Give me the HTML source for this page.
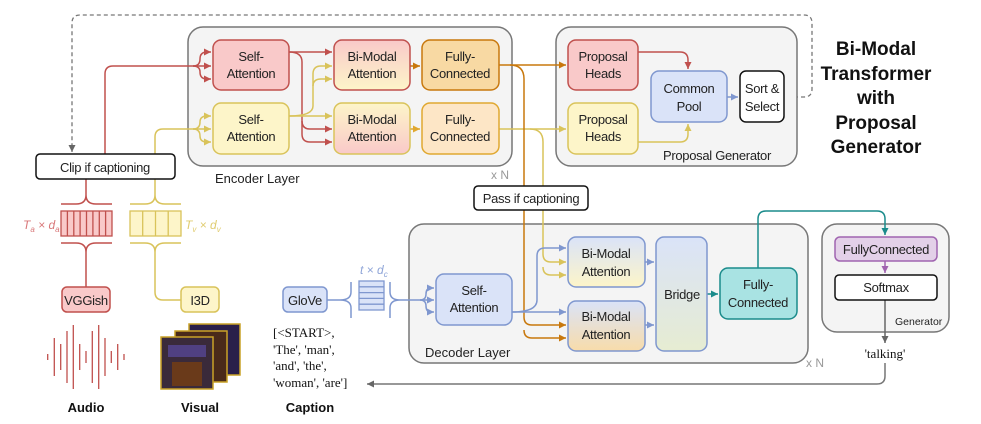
<!DOCTYPE html>
<html><head><meta charset="utf-8"><style>
html,body{margin:0;padding:0;background:#fff;}
svg{display:block;}
text{font-family:"Liberation Sans Narrow","Liberation Sans",sans-serif;}
.t text{font-size:13px;fill:#222;text-anchor:middle;letter-spacing:-0.3px;}
.s text{font-family:"Liberation Serif",serif;font-size:13px;fill:#111;}
</style></head><body>
<svg width="981" height="424" viewBox="0 0 981 424" xmlns="http://www.w3.org/2000/svg">
<defs>
<linearGradient id="ry" x1="0" y1="0" x2="0" y2="1"><stop offset="0" stop-color="#f9c9c9"/><stop offset="1" stop-color="#fdf5c9"/></linearGradient>
<linearGradient id="yr" x1="0" y1="0" x2="0" y2="1"><stop offset="0" stop-color="#fdf5c9"/><stop offset="1" stop-color="#f9c9c9"/></linearGradient>
<linearGradient id="by" x1="0" y1="0" x2="0" y2="1"><stop offset="0" stop-color="#dae3f8"/><stop offset="1" stop-color="#fdf5c9"/></linearGradient>
<linearGradient id="bo" x1="0" y1="0" x2="0" y2="1"><stop offset="0" stop-color="#dae3f8"/><stop offset="1" stop-color="#f8dcaa"/></linearGradient>
<linearGradient id="bg" x1="0" y1="0" x2="0" y2="1"><stop offset="0" stop-color="#dae3f8"/><stop offset="1" stop-color="#e6ecd2"/></linearGradient>
<marker id="ar" markerWidth="8" markerHeight="8" refX="7" refY="4" orient="auto" markerUnits="userSpaceOnUse"><path d="M0,0.5 L7,4 L0,7.5 Z" fill="#c0504d"/></marker>
<marker id="ay" markerWidth="8" markerHeight="8" refX="7" refY="4" orient="auto" markerUnits="userSpaceOnUse"><path d="M0,0.5 L7,4 L0,7.5 Z" fill="#d9c35a"/></marker>
<marker id="ao" markerWidth="8" markerHeight="8" refX="7" refY="4" orient="auto" markerUnits="userSpaceOnUse"><path d="M0,0.5 L7,4 L0,7.5 Z" fill="#c8780d"/></marker>
<marker id="ao2" markerWidth="8" markerHeight="8" refX="7" refY="4" orient="auto" markerUnits="userSpaceOnUse"><path d="M0,0.5 L7,4 L0,7.5 Z" fill="#e0a830"/></marker>
<marker id="ab" markerWidth="8" markerHeight="8" refX="7" refY="4" orient="auto" markerUnits="userSpaceOnUse"><path d="M0,0.5 L7,4 L0,7.5 Z" fill="#7f97cf"/></marker>
<marker id="at" markerWidth="8" markerHeight="8" refX="7" refY="4" orient="auto" markerUnits="userSpaceOnUse"><path d="M0,0.5 L7,4 L0,7.5 Z" fill="#1a8b8b"/></marker>
<marker id="ap" markerWidth="8" markerHeight="8" refX="7" refY="4" orient="auto" markerUnits="userSpaceOnUse"><path d="M0,0.5 L7,4 L0,7.5 Z" fill="#a064b0"/></marker>
<marker id="ag" markerWidth="8" markerHeight="8" refX="7" refY="4" orient="auto" markerUnits="userSpaceOnUse"><path d="M0,0.5 L7,4 L0,7.5 Z" fill="#666"/></marker>
</defs>

<path d="M787,97 H804 Q812,97 812,89 V23 Q812,15 804,15 H80 Q72,15 72,23 V152" fill="none" stroke="#777" stroke-width="1.3" stroke-dasharray="4,3" marker-end="url(#ag)"/>

<rect x="188" y="27" width="324" height="139" rx="15" fill="#f4f4f4" stroke="#777" stroke-width="1.5"/>
<rect x="556" y="27" width="241" height="139" rx="15" fill="#f4f4f4" stroke="#777" stroke-width="1.5"/>
<rect x="409" y="224" width="399" height="139" rx="15" fill="#f4f4f4" stroke="#777" stroke-width="1.5"/>
<rect x="822" y="224" width="127" height="108" rx="15" fill="#f4f4f4" stroke="#777" stroke-width="1.5"/>

<g fill="none" stroke-width="1.5">
<path d="M105,154 V74 Q105,66 113,66 H193" stroke="#c0504d"/>
<path d="M193,66 Q200,66 200,59 Q200,52 207,52 H211" stroke="#c0504d" marker-end="url(#ar)"/>
<path d="M193,66 H211" stroke="#c0504d" marker-end="url(#ar)"/>
<path d="M193,66 Q200,66 200,72 Q200,79 207,79 H211" stroke="#c0504d" marker-end="url(#ar)"/>
<path d="M155,154 V137 Q155,129 163,129 H193" stroke="#d9c35a"/>
<path d="M193,129 Q200,129 200,122 Q200,116 207,116 H211" stroke="#d9c35a" marker-end="url(#ay)"/>
<path d="M193,129 H211" stroke="#d9c35a" marker-end="url(#ay)"/>
<path d="M193,129 Q200,129 200,136 Q200,142 207,142 H211" stroke="#d9c35a" marker-end="url(#ay)"/>
<path d="M289,52 H332" stroke="#c0504d" marker-end="url(#ar)"/>
<path d="M289,52 Q302,52 302,62 V121 Q302,129 310,129 H332" stroke="#c0504d" marker-end="url(#ar)"/>
<path d="M302,121 V134 Q302,142 310,142 H332" stroke="#c0504d" marker-end="url(#ar)"/>
<path d="M289,116 H332" stroke="#d9c35a" marker-end="url(#ay)"/>
<path d="M289,116 Q313,116 313,106 V74 Q313,66 321,66 H332" stroke="#d9c35a" marker-end="url(#ay)"/>
<path d="M313,86 Q313,79 321,79 H332" stroke="#d9c35a" marker-end="url(#ay)"/>
<path d="M410,66 H420" stroke="#c8780d" marker-end="url(#ao)"/>
<path d="M410,129 H420" stroke="#e0a830" marker-end="url(#ao2)"/>
<path d="M499,65 H566" stroke="#c8780d" marker-end="url(#ao)"/>
<path d="M499,129 H566" stroke="#d9c35a" marker-end="url(#ay)"/>
<path d="M510,65 Q524,65 524,79 V317 Q524,325 532,325 H566" stroke="#c8780d" marker-end="url(#ao)"/>
<path d="M524,330 Q524,338 532,338 H566" stroke="#c8780d" marker-end="url(#ao)"/>
<path d="M530,129 Q543,129 543,142 V254 Q543,262 551,262 H566" stroke="#d9c35a" marker-end="url(#ay)"/>
<path d="M543,267 Q543,275 551,275 H566" stroke="#d9c35a" marker-end="url(#ay)"/>
<path d="M638,52 H680 Q688,52 688,60 V69" stroke="#c0504d" marker-end="url(#ar)"/>
<path d="M638,142 H680 Q688,142 688,134 V124" stroke="#d9c35a" marker-end="url(#ay)"/>
<path d="M727,97 H738" stroke="#7f97cf" marker-end="url(#ab)"/>
<path d="M512,312 H566" stroke="#7f97cf" marker-end="url(#ab)"/>
<path d="M512,312 Q537,312 537,300 V256 Q537,248 545,248 H566" stroke="#7f97cf" marker-end="url(#ab)"/>
<path d="M644,262 H654" stroke="#7f97cf" marker-end="url(#ab)"/>
<path d="M644,325 H654" stroke="#7f97cf" marker-end="url(#ab)"/>
<path d="M707,294 H718" stroke="#1a8b8b" marker-end="url(#at)"/>
<path d="M758,268 V219 Q758,211 766,211 H877 Q885,211 885,219 V235" stroke="#1a8b8b" marker-end="url(#at)"/>
<path d="M885,261 V273" stroke="#a064b0" marker-end="url(#ap)"/>
<path d="M885,300 V343" stroke="#666" marker-end="url(#ag)"/>
<path d="M885,363 V376 Q885,384 877,384 H367" stroke="#777" marker-end="url(#ag)"/>
<path d="M327,300 H340 Q351,300 351,292 V282 M340,300 Q351,300 351,308 V318" stroke="#7f97cf"/>
<path d="M390,282 V292 Q390,300 400,300 M390,318 V308 Q390,300 400,300 H420" stroke="#7f97cf"/>
<path d="M420,300 Q426,300 426,294 Q426,288 431,288 H434" stroke="#7f97cf" marker-end="url(#ab)"/>
<path d="M420,300 H434" stroke="#7f97cf" marker-end="url(#ab)"/>
<path d="M420,300 Q426,300 426,306 Q426,312 431,312 H434" stroke="#7f97cf" marker-end="url(#ab)"/>
<path d="M86,179 V195 Q86,204 76,204 H61 M86,195 Q86,204 96,204 H112" stroke="#c0504d"/>
<path d="M61,243 H76 Q86,243 86,252 V287 M112,243 H96 Q86,243 86,252" stroke="#c0504d"/>
<path d="M155,179 V195 Q155,204 145,204 H130 M155,195 Q155,204 165,204 H181" stroke="#d9c35a"/>
<path d="M130,243 H145 Q155,243 155,252 V292 Q155,300 163,300 H181 M181,243 H165 Q155,243 155,252" stroke="#d9c35a"/>
</g>

<g stroke-width="1.5">
<rect x="213" y="40" width="76" height="50" rx="8" fill="#f9c9c9" stroke="#c0504d"/>
<rect x="213" y="103" width="76" height="51" rx="8" fill="#fdf5c9" stroke="#d9c35a"/>
<rect x="334" y="40" width="76" height="50" rx="8" fill="url(#ry)" stroke="#c0504d"/>
<rect x="334" y="103" width="76" height="51" rx="8" fill="url(#yr)" stroke="#d9c35a"/>
<rect x="422" y="40" width="77" height="50" rx="8" fill="#f8d9a3" stroke="#c8780d"/>
<rect x="422" y="103" width="77" height="51" rx="8" fill="#fde6c6" stroke="#e0a830"/>
<rect x="568" y="40" width="70" height="50" rx="8" fill="#f9c9c9" stroke="#c0504d"/>
<rect x="568" y="103" width="70" height="51" rx="8" fill="#fdf5c9" stroke="#d9c35a"/>
<rect x="651" y="71" width="76" height="51" rx="8" fill="#dae3f8" stroke="#7f97cf"/>
<rect x="740" y="71" width="44" height="51" rx="6" fill="#fff" stroke="#111"/>
<rect x="436" y="274" width="76" height="51" rx="8" fill="#dae3f8" stroke="#7f97cf"/>
<rect x="568" y="237" width="77" height="50" rx="8" fill="url(#by)" stroke="#7f97cf"/>
<rect x="568" y="301" width="77" height="50" rx="8" fill="url(#bo)" stroke="#7f97cf"/>
<rect x="656" y="237" width="51" height="114" rx="8" fill="url(#bg)" stroke="#7f97cf"/>
<rect x="720" y="268" width="77" height="51" rx="8" fill="#a9e3e3" stroke="#1a8b8b"/>
<rect x="835" y="237" width="102" height="24" rx="5" fill="#e3d0e8" stroke="#a064b0"/>
<rect x="835" y="275" width="102" height="25" rx="4" fill="#fff" stroke="#111"/>
<rect x="36" y="154" width="139" height="25" rx="4" fill="#fff" stroke="#111"/>
<rect x="474" y="186" width="114" height="24" rx="4" fill="#fff" stroke="#111"/>
<rect x="62" y="287" width="48" height="25" rx="5" fill="#f9c9c9" stroke="#c0504d"/>
<rect x="181" y="287" width="38" height="25" rx="5" fill="#fdf5c9" stroke="#d9c35a"/>
<rect x="283" y="287" width="44" height="25" rx="5" fill="#dae3f8" stroke="#7f97cf"/>
</g>

<g stroke-width="1.3">
<rect x="61" y="211" width="51" height="25" fill="#f9c9c9" stroke="#c0504d"/>
<path d="M67.4,211V236M73.8,211V236M80.1,211V236M86.5,211V236M92.9,211V236M99.3,211V236M105.6,211V236" stroke="#c0504d"/>
<rect x="130" y="211" width="51" height="25" fill="#fdf5c9" stroke="#d9c35a"/>
<path d="M142.7,211V236M155.5,211V236M168.2,211V236" stroke="#d9c35a"/>
<rect x="359" y="281" width="25" height="29" fill="#dae3f8" stroke="#7f97cf"/>
<path d="M359,286.8H384M359,292.6H384M359,298.4H384M359,304.2H384" stroke="#7f97cf"/>
</g>

<g stroke="#c0504d" stroke-width="1.3">
<path d="M47.7,354V360M54.3,338V376M60.7,344V370M67,331V383M73.3,325V389M79.7,344V370M86,351V363M92.3,331V383M98.7,325V389M105,338V376M111.3,351V363M117.7,344V370M124,354V360"/>
</g>
<g stroke="#c9a227" stroke-width="1.5">
<rect x="189" y="324" width="51" height="51" fill="#2a1f4a"/>
<rect x="175" y="331" width="52" height="51" fill="#4a2a1a"/>
<rect x="161" y="337" width="52" height="52" fill="#3a2a3a"/>
</g>
<rect x="168" y="345" width="38" height="12" fill="#5a4aa0" opacity="0.7"/>
<rect x="172" y="362" width="30" height="24" fill="#6a3a1a"/>

<g class="t">
<text x="251" y="61">Self-</text><text x="251" y="78">Attention</text>
<text x="251" y="124">Self-</text><text x="251" y="141">Attention</text>
<text x="372" y="61">Bi-Modal</text><text x="372" y="78">Attention</text>
<text x="372" y="124">Bi-Modal</text><text x="372" y="141">Attention</text>
<text x="460" y="61">Fully-</text><text x="460" y="78">Connected</text>
<text x="460" y="124">Fully-</text><text x="460" y="141">Connected</text>
<text x="603" y="61">Proposal</text><text x="603" y="78">Heads</text>
<text x="603" y="124">Proposal</text><text x="603" y="141">Heads</text>
<text x="689" y="93">Common</text><text x="689" y="111">Pool</text>
<text x="762" y="93">Sort &amp;</text><text x="762" y="111">Select</text>
<text x="474" y="295">Self-</text><text x="474" y="312">Attention</text>
<text x="606" y="258">Bi-Modal</text><text x="606" y="276">Attention</text>
<text x="606" y="321">Bi-Modal</text><text x="606" y="339">Attention</text>
<text x="682" y="299">Bridge</text>
<text x="758" y="289">Fully-</text><text x="758" y="307">Connected</text>
<text x="886" y="254">FullyConnected</text>
<text x="886" y="292">Softmax</text>
<text x="105" y="172">Clip if captioning</text>
<text x="531" y="203">Pass if captioning</text>
<text x="86" y="305">VGGish</text>
<text x="200" y="305">I3D</text>
<text x="305" y="305">GloVe</text>
<text x="717" y="160">Proposal Generator</text>
</g>
<text x="215" y="183" style="font-size:13px;fill:#222">Encoder Layer</text>
<text x="425" y="357" style="font-size:13px;fill:#222">Decoder Layer</text>
<text x="895" y="325" style="font-size:10.5px;fill:#222">Generator</text>
<text x="491" y="179" style="font-size:12px;fill:#999">x N</text>
<text x="806" y="367" style="font-size:12px;fill:#999">x N</text>
<g style="font-size:19px;font-weight:bold;fill:#111;text-anchor:middle">
<text x="876" y="55">Bi-Modal</text><text x="876" y="80">Transformer</text><text x="876" y="104">with</text><text x="876" y="129">Proposal</text><text x="876" y="153">Generator</text>
</g>
<g style="font-size:13px;font-weight:bold;fill:#111;text-anchor:middle">
<text x="86" y="412">Audio</text><text x="200" y="412">Visual</text><text x="310" y="412">Caption</text>
</g>
<text x="23" y="229" style="font-size:12px;font-style:italic;fill:#d9787a">T<tspan font-size="8" dy="3">a</tspan><tspan dy="-3"> × d</tspan><tspan font-size="8" dy="3">a</tspan></text>
<text x="185" y="229" style="font-size:12px;font-style:italic;fill:#e0cc70">T<tspan font-size="8" dy="3">v</tspan><tspan dy="-3"> × d</tspan><tspan font-size="8" dy="3">v</tspan></text>
<text x="360" y="274" style="font-size:12px;font-style:italic;fill:#8fa5d8">t × d<tspan font-size="8" dy="3">c</tspan></text>
<g class="s">
<text x="273" y="337">[&lt;START&gt;,</text>
<text x="273" y="354">'The', 'man',</text>
<text x="273" y="370">'and', 'the',</text>
<text x="273" y="387">'woman', 'are']</text>
<text x="885" y="358" text-anchor="middle">'talking'</text>
</g>
</svg>
</body></html>
